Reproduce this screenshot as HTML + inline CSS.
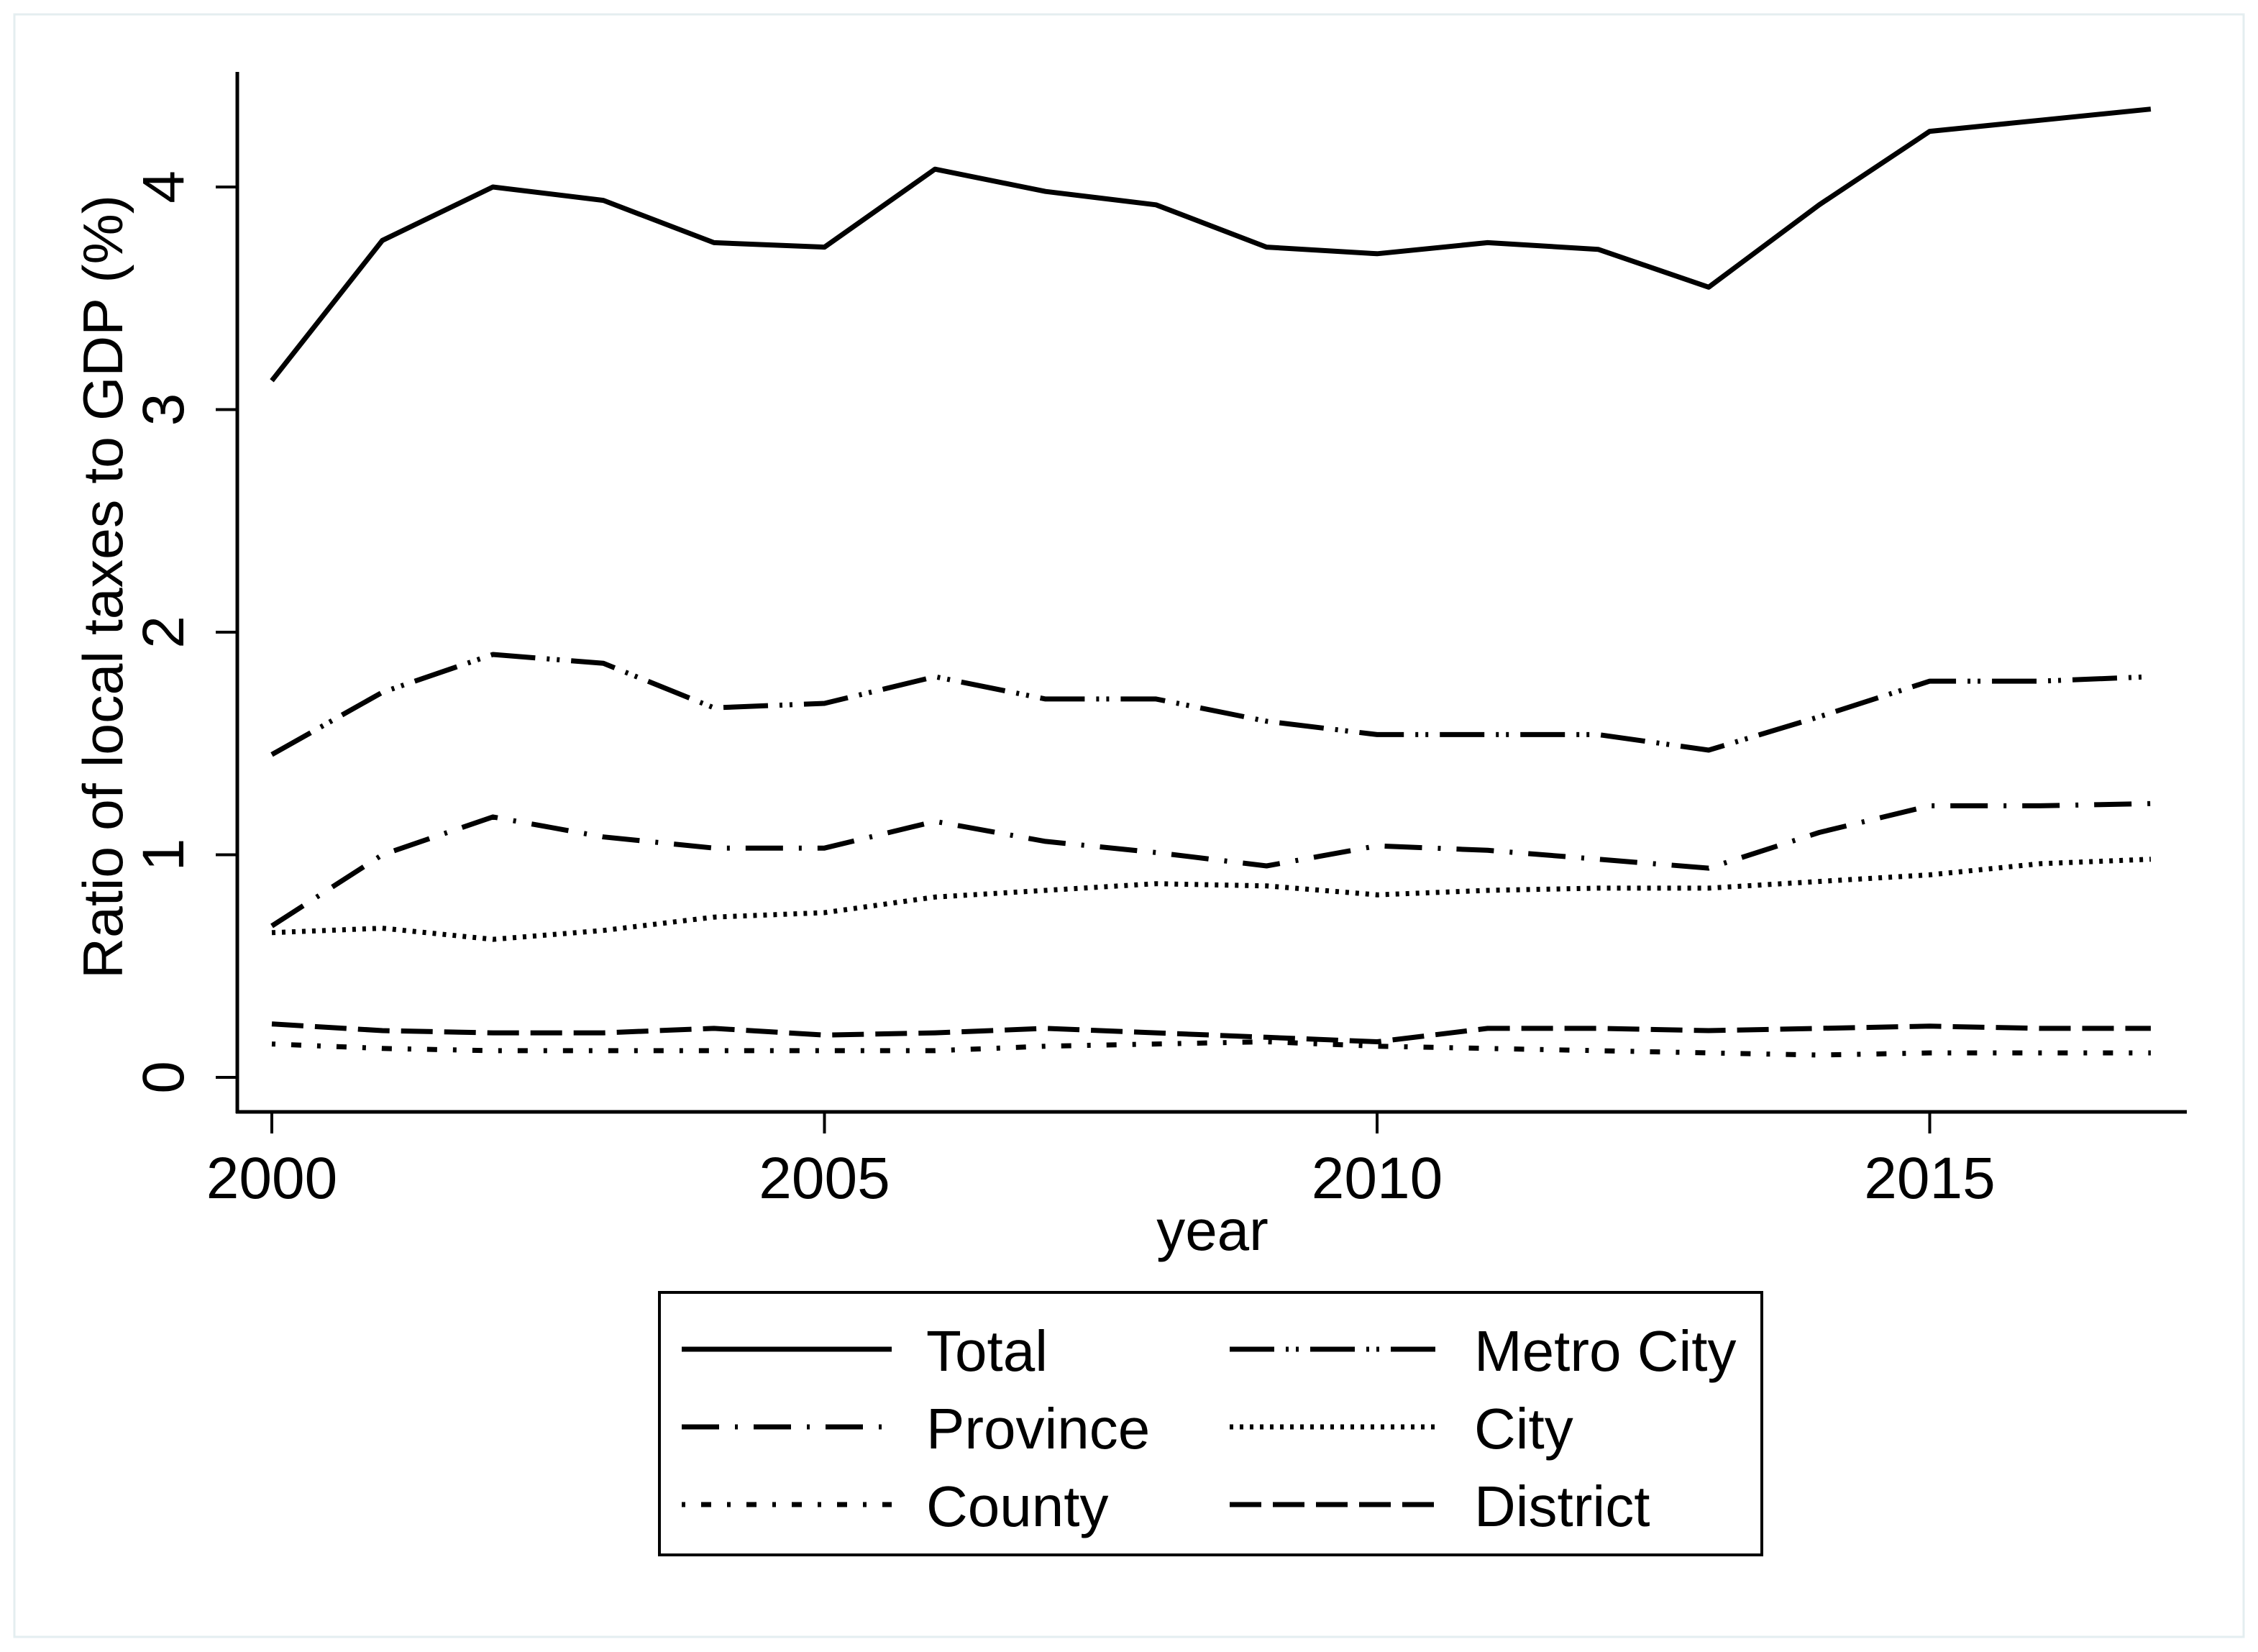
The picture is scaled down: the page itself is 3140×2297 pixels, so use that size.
<!DOCTYPE html>
<html><head><meta charset="utf-8"><style>
html,body{margin:0;padding:0;background:#fff;}
svg{display:block;font-family:"Liberation Sans",Arial,sans-serif;}
</style></head><body>
<svg id="chart" width="3140" height="2297" viewBox="0 0 3140 2297" xmlns="http://www.w3.org/2000/svg">
<rect x="20" y="20" width="3100" height="2256" fill="#fff" stroke="#e4eef0" stroke-width="3"/>
<g id="plot"></g>
<g id="axes"></g>
<text transform="translate(170,816) rotate(-90)" text-anchor="middle" font-size="78" textLength="1090" lengthAdjust="spacingAndGlyphs">Ratio of local taxes to GDP (%)</text>
<text x="1686" y="1738" text-anchor="middle" font-size="80">year</text>
<g>
<rect x="917" y="1797" width="1533" height="365" fill="#fff" stroke="#000" stroke-width="4"/>
<g id="legend-items"></g>
</g>
</svg>
<script>
const years = [2000,2001,2002,2003,2004,2005,2006,2007,2008,2009,2010,2011,2012,2013,2014,2015,2016,2017];
const totalVals = [3.13,3.76,4.00,3.94,3.75,3.73,4.08,3.98,3.92,3.73,3.70,3.75,3.72,3.55,3.92,4.25,4.30,4.35];
const metroVals = [1.45,1.73,1.90,1.86,1.66,1.68,1.80,1.70,1.70,1.60,1.54,1.54,1.54,1.47,1.62,1.78,1.78,1.80];
const provinceVals = [0.68,1.00,1.17,1.08,1.03,1.03,1.15,1.06,1.01,0.95,1.04,1.02,0.98,0.94,1.10,1.22,1.22,1.23];
const cityVals = [0.65,0.67,0.62,0.66,0.72,0.74,0.81,0.84,0.87,0.86,0.82,0.84,0.85,0.85,0.88,0.91,0.96,0.98];
const countyVals = [0.15,0.13,0.12,0.12,0.12,0.12,0.12,0.14,0.15,0.16,0.14,0.13,0.12,0.11,0.10,0.11,0.11,0.11];
const districtVals = [0.24,0.21,0.20,0.20,0.22,0.19,0.20,0.22,0.20,0.18,0.16,0.22,0.22,0.21,0.22,0.23,0.22,0.22];
const xTicks = [2000,2005,2010,2015];
const yTicks = [0,1,2,3,4];
const seriesNames = ["Total","Metro City","Province","City","County","District"];

const NS = "http://www.w3.org/2000/svg";
function xs(y){ return 378 + (y-2000)*153.7; }
function ys(v){ return 1498 - v*309.5; }
const dashes = {
 "Total":"none",
 "Metro City":"62 16 4 10 4 16",
 "Province":"52 22 4 22",
 "City":"5 9",
 "County":"5 22 14 22",
 "District":"44 16"
};
const dataMap = {"Total":totalVals,"Metro City":metroVals,"Province":provinceVals,"City":cityVals,"County":countyVals,"District":districtVals};
function mk(tag, attrs, parent){ const e=document.createElementNS(NS,tag); for(const k in attrs) e.setAttribute(k,attrs[k]); parent.appendChild(e); return e; }

const plot = document.getElementById('plot');
seriesNames.forEach(function(name){
  const vals = dataMap[name];
  const pts = years.map(function(y,i){ return xs(y).toFixed(1)+","+ys(vals[i]).toFixed(1); }).join(" ");
  const p = mk('polyline',{points:pts,fill:"none",stroke:"#000","stroke-width":"7","stroke-linejoin":"round"},plot);
  if(dashes[name]!=="none") p.setAttribute('stroke-dasharray',dashes[name]);
  
  
});

const axes = document.getElementById('axes');
const ya = mk('line',{x1:330,y1:100,x2:330,y2:1548,stroke:"#000","stroke-width":"5"},axes);


const xa = mk('line',{x1:328,y1:1546,x2:3041,y2:1546,stroke:"#000","stroke-width":"5"},axes);


yTicks.forEach(function(t){
  const l = mk('line',{x1:300,y1:ys(t),x2:330,y2:ys(t),stroke:"#000","stroke-width":"4"},axes);
  
  
  const tx = mk('text',{transform:"translate(255,"+ys(t)+") rotate(-90)","text-anchor":"middle","font-size":"82"},axes);
  tx.textContent = String(t);
  
  
});
xTicks.forEach(function(t){
  const l = mk('line',{x1:xs(t),y1:1546,x2:xs(t),y2:1576,stroke:"#000","stroke-width":"4"},axes);
  
  
  const tx = mk('text',{x:xs(t),y:1666,"text-anchor":"middle","font-size":"82"},axes);
  tx.textContent = String(t);
  
  
});

const leg = document.getElementById('legend-items');
const legOrder = [["Total",0,0],["Metro City",1,0],["Province",0,1],["City",1,1],["County",0,2],["District",1,2]];
legOrder.forEach(function(e){
  const x0 = e[1]===0 ? 948 : 1710;
  const cy = 1876 + e[2]*108;
  const l = mk('line',{x1:x0,y1:cy,x2:x0+292,y2:cy,stroke:"#000","stroke-width":"7"},leg);
  if(dashes[e[0]]!=="none") l.setAttribute('stroke-dasharray',dashes[e[0]]);
  
  
  const tx = mk('text',{x:x0+340,y:cy+30,"font-size":"80"},leg);
  tx.textContent = e[0];
  
  
});
</script>
</body></html>
